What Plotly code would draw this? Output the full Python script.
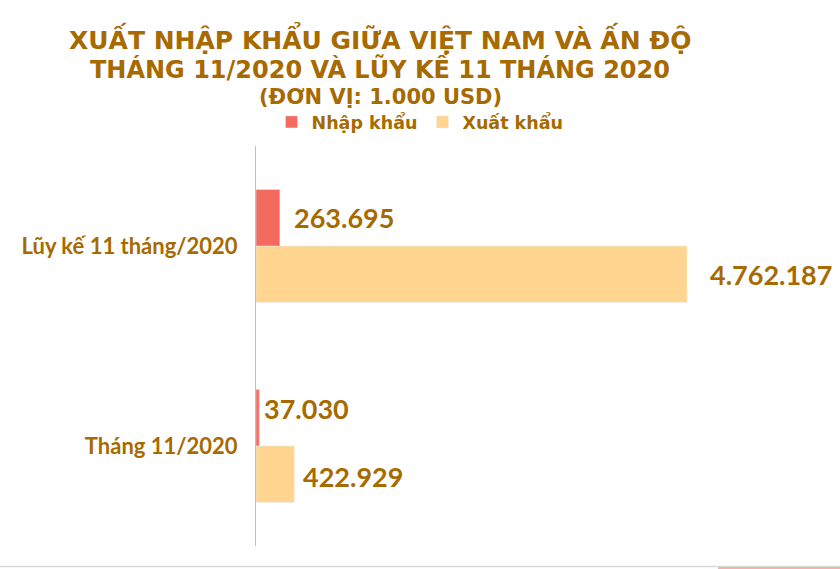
import plotly.graph_objects as go

categories = ["Tháng 11/2020", "Lũy kế 11 tháng/2020"]
nhap_khau = [37030, 263695]
xuat_khau = [422929, 4762187]
series_names = ["Nhập khẩu", "Xuất khẩu"]
title_lines = ["XUẤT NHẬP KHẨU GIỮA VIỆT NAM VÀ ẤN ĐỘ",
               "THÁNG 11/2020 VÀ LŨY KẾ 11 THÁNG 2020",
               "(ĐƠN VỊ: 1.000 USD)"]

def fmt(v):
    return f"{v:,}".replace(",", ".")

TXT = "#A66A00"
C_NK = "#F46A5F"
C_XK = "#FFD58F"
VAL_FONT = dict(family="Lato, Open Sans, sans-serif", size=27, color=TXT, weight="bold")
TITLE_FONT = "DejaVu Sans, Liberation Sans, sans-serif"

W, H = 840, 569
L, T, B = 256, 146, 23
plot_w = W - L
plot_h = H - T - B
xmax = xuat_khau[1] * plot_w / 431

def py(p):  # pixel row -> paper y
    return (H - B - p) / plot_h

def px(p):  # pixel column -> paper x
    return (p - L) / plot_w

fig = go.Figure()
fig.add_trace(go.Bar(y=categories, x=xuat_khau, orientation="h", name=series_names[1],
                     marker_color=C_XK, hoverinfo="x"))
fig.add_trace(go.Bar(y=categories, x=nhap_khau, orientation="h", name=series_names[0],
                     marker_color=C_NK, hoverinfo="x"))

annotations = []
# value labels (label offsets as placed in the reference)
gap_nk, dy_nk = [3, 12], [37.5, 28.5]
gap_xk, dy_xk = [7, 21], [-30.5, -28.5]
for cat, v, g, d in zip(categories, nhap_khau, gap_nk, dy_nk):
    annotations.append(dict(x=v, y=cat, xref="x", yref="y", text=fmt(v), showarrow=False,
                            xanchor="left", yanchor="middle", xshift=g, yshift=d, font=VAL_FONT))
for cat, v, g, d in zip(categories, xuat_khau, gap_xk, dy_xk):
    annotations.append(dict(x=v, y=cat, xref="x", yref="y", text=fmt(v), showarrow=False,
                            xanchor="left", yanchor="middle", xshift=g, yshift=d, font=VAL_FONT))
# title lines
for txt, yc, sz in zip(title_lines, [38, 68, 97], [25, 24, 21]):
    annotations.append(dict(x=px(380), y=py(yc), xref="paper", yref="paper", text=txt,
                            showarrow=False, xanchor="center", yanchor="middle",
                            font=dict(family=TITLE_FONT, size=sz, color=TXT, weight="bold")))

shapes = [
    dict(type="line", xref="paper", yref="paper", x0=px(0), x1=1, y0=py(566.5), y1=py(566.5),
         line=dict(color="#D9D9D9", width=1.5)),
    dict(type="rect", xref="paper", yref="paper", x0=px(718), x1=1, y0=py(567), y1=py(569.5),
         line=dict(width=0), fillcolor="#F2B3AC"),
]

fig.update_layout(
    width=W, height=H,
    margin=dict(l=L, r=0, t=T, b=B, autoexpand=False),
    plot_bgcolor="white", paper_bgcolor="white",
    barmode="group", bargap=0.435, bargroupgap=0,
    showlegend=True,
    legend=dict(orientation="h", traceorder="reversed", x=px(420), xanchor="center",
                y=py(122), yanchor="middle",
                font=dict(family=TITLE_FONT, size=17.5, color=TXT, weight="bold"),
                itemwidth=30, bgcolor="rgba(0,0,0,0)"),
    annotations=annotations,
    shapes=shapes,
    xaxis=dict(range=[0, xmax], visible=False, showgrid=False, zeroline=False),
    yaxis=dict(showline=True, linecolor="#BFBFBF", linewidth=1, showgrid=False,
               ticks="", ticklabelstandoff=13,
               tickfont=dict(family="Lato, Open Sans, sans-serif", size=22, color=TXT, weight="bold"),
               range=[-0.5, 1.5]),
)
fig.write_html("out.html", config={"displayModeBar": False},
               post_script="document.body.style.margin='0';")
